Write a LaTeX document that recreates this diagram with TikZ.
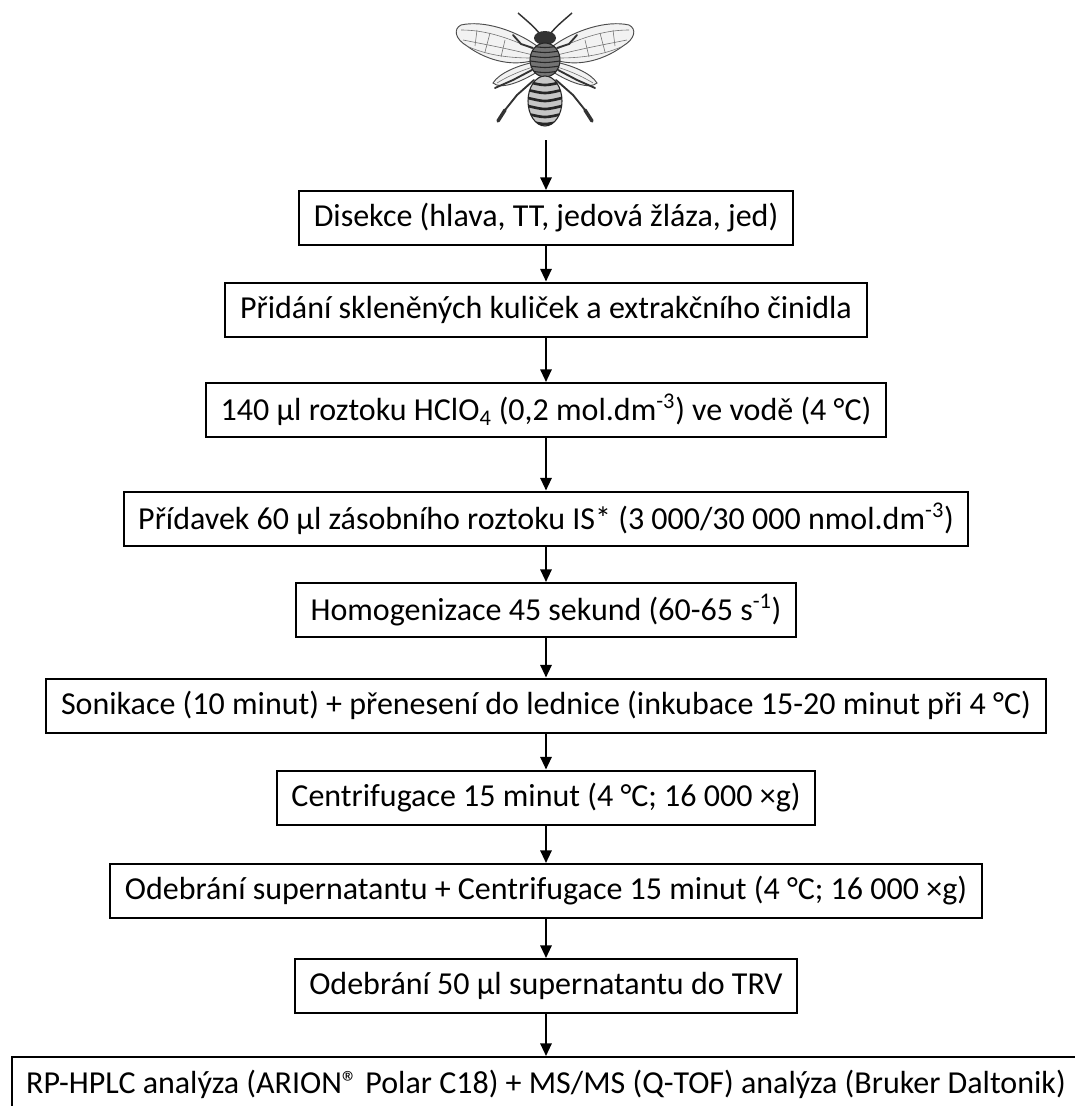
\documentclass[tikz,border=0pt]{standalone}
\usepackage{fontspec}
\setmainfont{Carlito}
\usetikzlibrary{arrows.meta}

\tikzset{
  stepbox/.style={draw, line width=1.5pt, inner xsep=11pt, inner ysep=4pt, minimum height=40.5pt,
    font=\fontsize{24}{28}\selectfont},
  flow/.style={-{Triangle[length=9.5pt,width=8.5pt]}, line width=1.5pt},
  wingline/.style={draw=black!70, line width=0.7pt, fill=gray!10},
  vein/.style={black!55, line width=0.45pt},
  leg/.style={black!80, line width=1.4pt, line cap=round, line join=round},
}

\begin{document}
\begin{tikzpicture}[x=0.75pt, y=-0.75pt]
  \useasboundingbox[fill=white] (0,0) rectangle (1074,1106);

  % the bee on top
  \begin{scope}[shift={(545,0)}]
    \foreach \s in {1,-1} {
      \begin{scope}[xscale=\s]
        % fore wing + veins
        \draw[wingline] (-8,46) .. controls (-30,30) and (-62,20) .. (-84,25)
          .. controls (-92,29) and (-90,39) .. (-78,46)
          .. controls (-62,58) and (-36,68) .. (-10,60) -- cycle;
        \draw[vein] (-10,50) .. controls (-40,36) and (-62,30) .. (-84,30);
        \draw[vein] (-12,55) .. controls (-40,48) and (-62,44) .. (-82,40);
        \draw[vein] (-14,58) .. controls (-40,58) and (-60,54) .. (-76,47);
        \draw[vein] (-40,40) -- (-44,57) (-55,33) -- (-60,52) (-68,30) -- (-70,46);
        % hind wing
        \draw[wingline] (-10,62) .. controls (-26,65) and (-46,73) .. (-52,83)
          .. controls (-44,90) and (-24,82) .. (-8,72) -- cycle;
        \draw[vein] (-12,67) .. controls (-28,72) and (-40,78) .. (-48,83);
        % legs
        \draw[leg] (-12,48) -- (-24,44) -- (-32,35);
        \draw[leg] (-13,70) -- (-32,80) -- (-50,88);
        \draw[leg] (-11,80) -- (-28,95) -- (-40,110);
        \draw[leg, line width=2.6pt] (-40,110) -- (-47,121);
        % antenna
        \draw[black!80, line width=1.1pt] (-5,34) .. controls (-12,26) .. (-27,13);
      \end{scope}
    }
    % head
    \fill[black!80] (0,38) ellipse [x radius=11, y radius=7];
    % thorax
    \draw[fill=black!55, draw=black!85, line width=0.8pt] (0,60) ellipse [x radius=15, y radius=17];
    \begin{scope}
      \clip (0,60) ellipse [x radius=15, y radius=17];
      \foreach \yy in {46,51,...,76}
        \draw[black!85, line width=0.8pt] (-15,\yy) .. controls (0,\yy+2) .. (15,\yy);
    \end{scope}
    % abdomen with stripes
    \draw[fill=gray!45, draw=black!85, line width=0.8pt] (0,101) ellipse [x radius=17, y radius=25];
    \begin{scope}
      \clip (0,101) ellipse [x radius=17, y radius=25];
      \foreach \yy in {82,90,98,106,114,121}
        \draw[black!85, line width=2pt] (-17,\yy) .. controls (0,\yy+4) .. (17,\yy);
    \end{scope}
  \end{scope}
  \coordinate (beebase) at (546,140);

  % the steps
  \node[stepbox] (disekce) at (546,218) {Disekce (hlava, TT, jedová žláza, jed)};
  \node[stepbox] (kulicky) at (546,309.5) {Přidání skleněných kuliček a extrakčního činidla};
  \node[stepbox] (hclo) at (546,410) {140 µl roztoku HClO\textsubscript{4} (0,2 mol.dm\textsuperscript{-3}) ve vodě (4 °C)};
  \node[stepbox] (pridavek) at (546,518.5) {Přídavek 60 µl zásobního roztoku IS* (3 000/30 000 nmol.dm\textsuperscript{-3})};
  \node[stepbox] (homog) at (546,610) {Homogenizace 45 sekund (60-65 s\textsuperscript{-1})};
  \node[stepbox] (sonik) at (546,705.5) {Sonikace (10 minut) + přenesení do lednice (inkubace 15-20 minut při 4 °C)};
  \node[stepbox] (centrif) at (546,797.5) {Centrifugace 15 minut (4 °C; 16 000 ×g)};
  \node[stepbox] (superA) at (546,891) {Odebrání supernatantu + Centrifugace 15 minut (4 °C; 16 000 ×g)};
  \node[stepbox] (superB) at (546,986) {Odebrání 50 µl supernatantu do TRV};
  \node[stepbox] (analyza) at (546,1084) {RP-HPLC analýza (ARION® Polar C18) + MS/MS (Q-TOF) analýza (Bruker Daltonik)};

  % arrows between the steps
  \draw[flow] (beebase) -- (disekce);
  \draw[flow] (disekce) -- (kulicky);
  \draw[flow] (kulicky) -- (hclo);
  \draw[flow] (hclo) -- (pridavek);
  \draw[flow] (pridavek) -- (homog);
  \draw[flow] (homog) -- (sonik);
  \draw[flow] (sonik) -- (centrif);
  \draw[flow] (centrif) -- (superA);
  \draw[flow] (superA) -- (superB);
  \draw[flow] (superB) -- (analyza);
\end{tikzpicture}
\end{document}
